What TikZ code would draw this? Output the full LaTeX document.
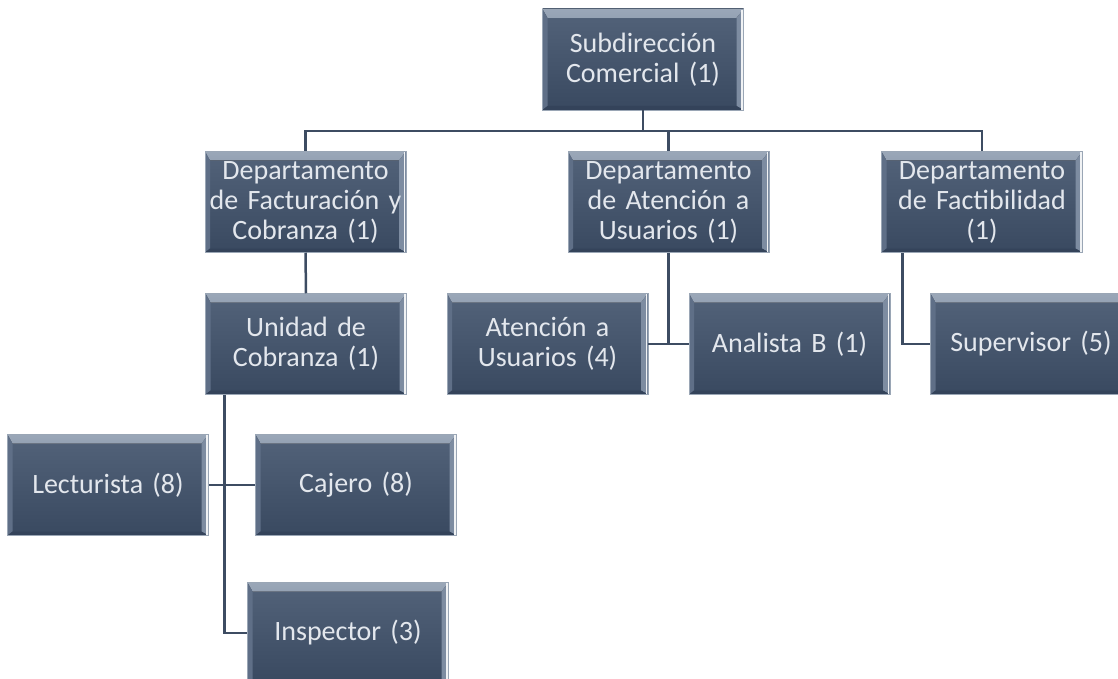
\documentclass[tikz,border=0pt]{standalone}
\usepackage{fontspec}
\setmainfont{Carlito}
\usepackage{tikz}
\usetikzlibrary{positioning}
\usetikzlibrary{calc}
\definecolor{boxtop}{HTML}{53637A}
\definecolor{boxbottom}{HTML}{394960}
\definecolor{bevlight}{HTML}{9AA7B8}
\definecolor{bevmid}{HTML}{5F6F87}
\definecolor{bevright}{HTML}{7D8CA1}
\definecolor{bevdark}{HTML}{34435A}
\definecolor{boxline}{HTML}{9AA6B5}
\definecolor{boxtext}{HTML}{E3E7ED}
\definecolor{linkcol}{HTML}{3D4C62}
\tikzset{basic box/.style={draw=boxline,
                           line width=0.5pt,
                           rectangle,
                           inner sep=0pt}}
\tikzset{org box/.style={basic box,
                         minimum width=201pt,
                         minimum height=101pt,
                         text width=200pt,
                         align=center,
                         text=boxtext,
                         font=\fontsize{28}{30}\selectfont,
                         top color=boxtop,
                         bottom color=boxbottom,
                         path picture={
                           \fill[top color=bevlight,bottom color=bevmid]
                             (path picture bounding box.north west) --
                             (path picture bounding box.north east) --
                             ([xshift=-7pt,yshift=-9pt]path picture bounding box.north east) --
                             ([xshift=5pt,yshift=-9pt]path picture bounding box.north west) -- cycle;
                           \fill[bevmid]
                             (path picture bounding box.north west) --
                             ([xshift=5pt,yshift=-9pt]path picture bounding box.north west) --
                             ([xshift=5pt,yshift=4pt]path picture bounding box.south west) --
                             (path picture bounding box.south west) -- cycle;
                           \fill[bevright]
                             (path picture bounding box.north east) --
                             ([xshift=-7pt,yshift=-9pt]path picture bounding box.north east) --
                             ([xshift=-7pt,yshift=4pt]path picture bounding box.south east) --
                             (path picture bounding box.south east) -- cycle;
                           \fill[bevdark]
                             (path picture bounding box.south west) --
                             ([xshift=5pt,yshift=4pt]path picture bounding box.south west) --
                             ([xshift=-7pt,yshift=4pt]path picture bounding box.south east) --
                             (path picture bounding box.south east) -- cycle;
                           \draw[white!85!bevlight,line width=1.6pt]
                             ([xshift=-1.5pt]path picture bounding box.north east) --
                             ([xshift=-1.5pt]path picture bounding box.south east);
                         }}}
\tikzset{edge/.style={draw,
                      color=linkcol,
                      line width=2.5pt}}

\begin{document}
\begin{tikzpicture}
      [
      x=1pt,y=-1pt,
      ]

      \useasboundingbox (0,0) rectangle (1118,679);
      \clip (0,0) rectangle (1118,679);

      % vertices
      \foreach \n/\x/\y/\t in
      {
      sub/643/59.5/{Subdirección\\Comercial (1)},
      facturacion/305.5/202/{Departamento\\de Facturación y\\Cobranza (1)},
      atencion/668.5/202/{Departamento\\de Atención a\\Usuarios (1)},
      factibilidad/982/202/{Departamento\\de Factibilidad\\(1)},
      unidad/306/344/{Unidad de\\Cobranza (1)},
      usuarios/547.5/344/{Atención a\\Usuarios (4)},
      analista/789.5/344/{Analista B (1)},
      supervisor/1031/344/{Supervisor (5)},
      lecturista/108/485/{Lecturista (8)},
      cajero/356/485/{Cajero (8)},
      inspector/348/633/{Inspector (3)}
      }
      {
      \node [org box] (\n) at (\x,\y) {\t};
      }

      % edges
      \path [edge] (sub.south) -- ++(0,21) -| (facturacion.north);
      \path [edge] (sub.south) -- ++(0,21) -| (atencion.north);
      \path [edge] (sub.south) -- ++(0,21) -| (factibilidad.north);

      \path [edge] (facturacion.south) -- (unidad.north);

      \path [edge] (atencion.south) -- (atencion.south |- usuarios.east);
      \path [edge] (usuarios.east) -- (analista.west);

      \path [edge] ([xshift=21pt]factibilidad.south west) |- (supervisor.west);

      \path [edge] ([xshift=19pt]unidad.south west) |- (inspector.west);
      \path [edge] (lecturista.east) -- (cajero.west);

    \end{tikzpicture}
\end{document}
